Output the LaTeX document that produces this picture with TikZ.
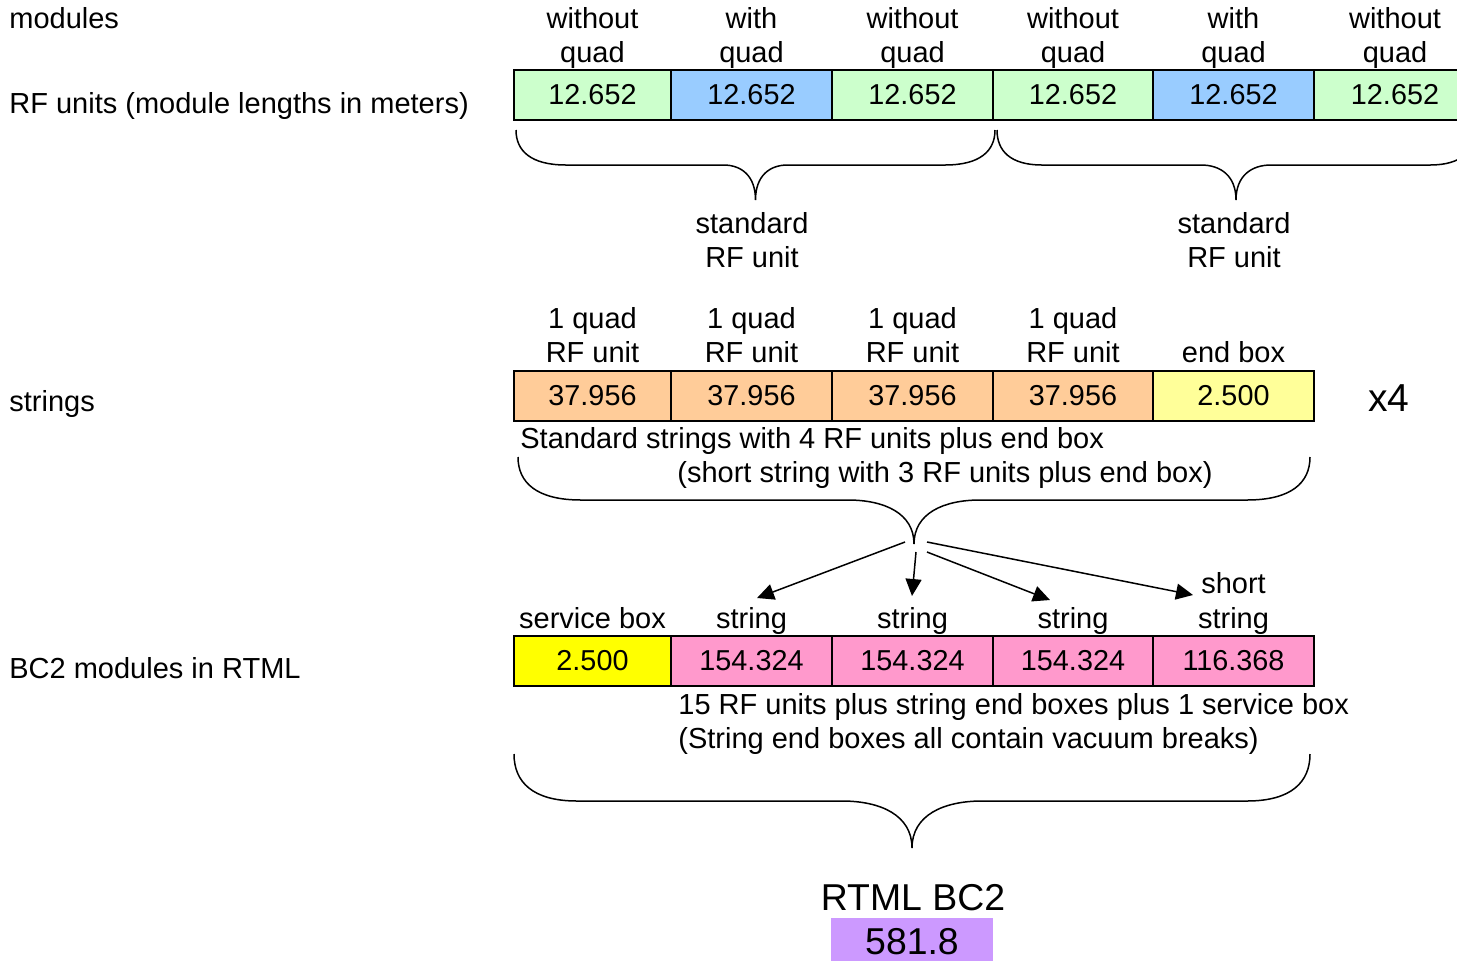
\documentclass[tikz,border=0pt]{standalone}
\usepackage{fontspec}
\setmainfont{Liberation Sans}
\usetikzlibrary{arrows.meta}
\definecolor{cgreen}{HTML}{CCFFCC}
\definecolor{cblue}{HTML}{99CCFF}
\definecolor{corange}{HTML}{FFCC99}
\definecolor{cpaleyellow}{HTML}{FFFF99}
\definecolor{cyellow}{HTML}{FFFF00}
\definecolor{cpink}{HTML}{FF99CC}
\definecolor{cpurple}{HTML}{CC99FF}
\tikzset{
  lbl/.style={inner sep=0pt, anchor=base, font=\fontsize{14.5}{17.5}\selectfont},
  lblw/.style={lbl, anchor=base west},
  biglbl/.style={inner sep=0pt, anchor=base, font=\fontsize{18.7}{22}\selectfont},
  cell/.style={draw=black, line width=0.75pt, inner sep=0pt, minimum height=25pt,
               font=\fontsize{14.4}{17.5}\selectfont},
  bracel/.style={line width=0.75pt},
  arr/.style={line width=0.75pt, -{Triangle[length=8.5pt,width=8pt]}}
}
\newcommand{\curlyb}[7]{%
  \pgfmathsetmacro\xc{(#1+#2)/2}%
  \draw[bracel] (#1,#3) .. controls (#1,{#3+0.6*(#4-#3)}) and ({#1+0.3*#6},#4) .. ({#1+#6},#4)
    -- ({\xc-#7},#4) .. controls ({\xc-0.45*#7},#4) and (\xc,{#4+0.3*(#5-#4)}) .. (\xc,#5)
    .. controls (\xc,{#4+0.3*(#5-#4)}) and ({\xc+0.45*#7},#4) .. ({\xc+#7},#4)
    -- ({#2-#6},#4) .. controls ({#2-0.3*#6},#4) and (#2,{#3+0.6*(#4-#3)}) .. (#2,#3);
}
\begin{document}
\begin{tikzpicture}[x=0.5pt,y=-0.5pt]
\useasboundingbox (0,0) rectangle (1457,960);
\clip (0,0) rectangle (1457,960);

% left labels
\node[lblw] (lmod) at (9,28) {modules};
\node[lblw] (lrf) at (9,113) {RF units (module lengths in meters)};
\node[lblw] (lstr) at (9,411) {strings};
\node[lblw] (lbc2) at (9,678) {BC2 modules in RTML};

% top row labels
\node[lbl] (t1a) at (592.5,28) {without}; \node[lbl] (t1b) at (592.5,62) {quad};
\node[lbl] (t2a) at (751.5,28) {with};    \node[lbl] (t2b) at (751.5,62) {quad};
\node[lbl] (t3a) at (912.5,28) {without}; \node[lbl] (t3b) at (912.5,62) {quad};
\node[lbl] (t4a) at (1073,28) {without};  \node[lbl] (t4b) at (1073,62) {quad};
\node[lbl] (t5a) at (1233.5,28) {with};   \node[lbl] (t5b) at (1233.5,62) {quad};
\node[lbl] (t6a) at (1395,28) {without};  \node[lbl] (t6b) at (1395,62) {quad};

% top row boxes
\node[cell, fill=cgreen, minimum width=78.5pt] (m1) at (592.5,95) {12.652};
\node[cell, fill=cblue,  minimum width=80.5pt] (m2) at (751.5,95) {12.652};
\node[cell, fill=cgreen, minimum width=80.5pt] (m3) at (912.5,95) {12.652};
\node[cell, fill=cgreen, minimum width=80pt]   (m4) at (1073,95) {12.652};
\node[cell, fill=cblue,  minimum width=80.5pt] (m5) at (1233.5,95) {12.652};
\node[cell, fill=cgreen, minimum width=81pt]   (m6) at (1395,95) {12.652};

% braces for RF units
\curlyb{516}{995}{130}{165}{200}{50}{32}
\curlyb{997}{1475}{130}{165}{200}{45}{35}
\node[lbl] (s1a) at (752,233) {standard}; \node[lbl] (s1b) at (752,267) {RF unit};
\node[lbl] (s2a) at (1234,233) {standard}; \node[lbl] (s2b) at (1234,267) {RF unit};

% strings row labels
\node[lbl] (q1a) at (592.5,328) {1 quad}; \node[lbl] (q1b) at (592.5,362) {RF unit};
\node[lbl] (q2a) at (751.5,328) {1 quad}; \node[lbl] (q2b) at (751.5,362) {RF unit};
\node[lbl] (q3a) at (912.5,328) {1 quad}; \node[lbl] (q3b) at (912.5,362) {RF unit};
\node[lbl] (q4a) at (1073,328) {1 quad};  \node[lbl] (q4b) at (1073,362) {RF unit};
\node[lbl] (q5b) at (1233.5,362) {end box};

% strings row boxes
\node[cell, fill=corange, minimum width=78.5pt] (r1) at (592.5,396) {37.956};
\node[cell, fill=corange, minimum width=80.5pt] (r2) at (751.5,396) {37.956};
\node[cell, fill=corange, minimum width=80.5pt] (r3) at (912.5,396) {37.956};
\node[cell, fill=corange, minimum width=80pt]   (r4) at (1073,396) {37.956};
\node[cell, fill=cpaleyellow, minimum width=80.5pt] (r5) at (1233.5,396) {2.500};
\node[inner sep=0pt, anchor=base, font=\fontsize{19.5}{23}\selectfont] (x4) at (1389,411) {x4};

\node[lblw] (std1) at (520,448) {Standard strings with 4 RF units plus end box};
\node[lblw] (std2) at (677,482) {(short string with 3 RF units plus end box)};

\curlyb{518}{1310}{457}{500}{544}{63}{66}

% arrows
\coordinate (a1s) at (905,542); \coordinate (a1e) at (757,598);
\coordinate (a2s) at (916,552); \coordinate (a2e) at (912,596);
\coordinate (a3s) at (927,552); \coordinate (a3e) at (1050,600);
\coordinate (a4s) at (927,542); \coordinate (a4e) at (1193,595);
\draw[arr] (a1s) -- (a1e);
\draw[arr] (a2s) -- (a2e);
\draw[arr] (a3s) -- (a3e);
\draw[arr] (a4s) -- (a4e);

% BC2 row labels
\node[lbl] (b1a) at (592.5,628) {service box};
\node[lbl] (b2a) at (751.5,628) {string};
\node[lbl] (b3a) at (912.5,628) {string};
\node[lbl] (b4a) at (1073,628) {string};
\node[lbl] (b5a) at (1233.5,593) {short}; \node[lbl] (b5b) at (1233.5,628) {string};

% BC2 row boxes
\node[cell, fill=cyellow, minimum width=78.5pt] (c1) at (592.5,661) {2.500};
\node[cell, fill=cpink, minimum width=80.5pt] (c2) at (751.5,661) {154.324};
\node[cell, fill=cpink, minimum width=80.5pt] (c3) at (912.5,661) {154.324};
\node[cell, fill=cpink, minimum width=80pt]   (c4) at (1073,661) {154.324};
\node[cell, fill=cpink, minimum width=80.5pt] (c5) at (1233.5,661) {116.368};

\node[lblw] (n1) at (678,714) {15 RF units plus string end boxes plus 1 service box};
\node[lblw] (n2) at (678,748) {(String end boxes all contain vacuum breaks)};

\curlyb{514}{1310}{754}{801}{848}{63}{70}

\node[biglbl] (rtml) at (913,910) {RTML BC2};
\node[fill=cpurple, inner sep=0pt, minimum width=81pt, minimum height=24pt,
      font=\fontsize{18.7}{22}\selectfont] (tot) at (912,942) {581.8};
\end{tikzpicture}
\end{document}
